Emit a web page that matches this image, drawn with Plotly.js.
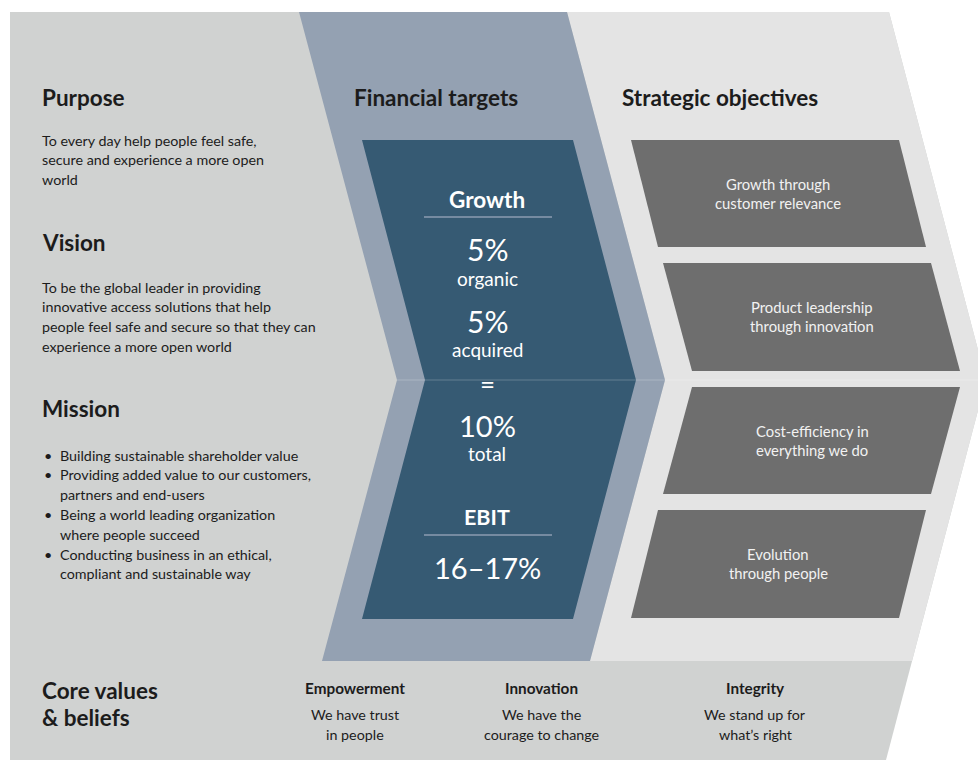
<!DOCTYPE html>
<html>
<head>
<meta charset="utf-8">
<script src="https://cdn.plot.ly/plotly-3.0.1.min.js"></script>
<style>html,body{margin:0;padding:0;background:#fff;}#chart{width:978px;height:760px;}</style>
</head>
<body>
<div id="chart"></div>
<script>
// ---------- content ----------
const sectionTitles = ["Purpose", "Vision", "Mission", "Financial targets", "Strategic objectives"];
const purposeLines = ["To every day help people feel safe,", "secure and experience a more open", "world"];
const visionLines = ["To be the global leader in providing", "innovative access solutions that help", "people feel safe and secure so that they can", "experience a more open world"];
const missionItems = [
  ["Building sustainable shareholder value"],
  ["Providing added value to our customers,", "partners and end-users"],
  ["Being a world leading organization", "where people succeed"],
  ["Conducting business in an ethical,", "compliant and sustainable way"]
];
const growthHeading = "Growth";
const growthValues = ["5%", "5%"];
const growthLabels = ["organic", "acquired"];
const growthEquals = "=";
const growthTotal = "10%";
const growthTotalLabel = "total";
const ebitHeading = "EBIT";
const ebitValue = "16–17%";
const objectives = [
  ["Growth through", "customer relevance"],
  ["Product leadership", "through innovation"],
  ["Cost-efficiency in", "everything we do"],
  ["Evolution", "through people"]
];
const coreTitle = ["Core values", "& beliefs"];
const coreValues = ["Empowerment", "Innovation", "Integrity"];
const coreDescriptions = [["We have trust", "in people"], ["We have the", "courage to change"], ["We stand up for", "what’s right"]];

// ---------- styling ----------
const FONT = "Lato, 'Open Sans', sans-serif";
const DARK = "#1c1c1c";
const C_LEFT = "#d0d2d1", C_RIGHT = "#e4e4e4", C_BAND = "#94a1b2", C_BOX = "#365a73", C_OBJ = "#6e6e6e";

function poly(pts) { return "M " + pts.map(p => p[0] + "," + p[1]).join(" L ") + " Z"; }
const shapes = [];
function addPoly(pts, color) {
  shapes.push({type: "path", xref: "x", yref: "y", path: poly(pts), fillcolor: color, line: {width: 0}, layer: "below"});
}
// panels
addPoly([[10,12],[889,12],[986,380],[886,760],[10,760]], C_LEFT);
addPoly([[567,12],[889,12],[986,380],[912,661],[590,661],[665,380]], C_RIGHT);
addPoly([[299,12],[567,12],[665,380],[590,661],[322,661],[397,380]], C_BAND);
addPoly([[362,140],[573,140],[636,380],[573,619],[362,619],[425,380]], C_BOX);
shapes.push({type: "line", xref: "x", yref: "y", x0: 397, x1: 986, y0: 380, y1: 380, line: {color: "rgba(255,255,255,0.22)", width: 1}, layer: "below"});
// objective boxes
const objGeom = [
  {y0: 140, y1: 247, tl: 631, bl: 658},
  {y0: 263, y1: 371, tl: 663, bl: 692},
  {y0: 387, y1: 494, tl: 692, bl: 663},
  {y0: 510, y1: 618, tl: 658, bl: 631}
];
const OBJ_W = 268;
objGeom.forEach(g => addPoly([[g.tl, g.y0], [g.tl + OBJ_W, g.y0], [g.bl + OBJ_W, g.y1], [g.bl, g.y1]], C_OBJ));
// heading rules
[217, 535].forEach(y => shapes.push({type: "line", xref: "x", yref: "y", x0: 424, x1: 552, y0: y, y1: y, line: {color: "#8d9db0", width: 1.5}, layer: "below"}));

// ---------- text ----------
const ann = [];
function txt(x, y, text, size, opts) {
  opts = opts || {};
  ann.push({
    xref: "x", yref: "y", x: x, y: y, text: opts.bold ? "<b>" + text + "</b>" : text,
    showarrow: false, xanchor: opts.anchor || "left", yanchor: "middle",
    font: {family: FONT, size: size, color: opts.color || DARK}
  });
}
const TITLE = 22.5, BODY = 14.3, LH = 19.8, LX = 40;
txt(LX, 97, sectionTitles[0], TITLE, {bold: true});
txt(436, 97, sectionTitles[3], TITLE, {bold: true, anchor: "center"});
txt(620, 97, sectionTitles[4], TITLE, {bold: true});
purposeLines.forEach((l, i) => txt(LX, 140 + i * LH, l, BODY));
txt(LX, 242, sectionTitles[1], TITLE, {bold: true});
visionLines.forEach((l, i) => txt(LX, 287 + i * LH, l, BODY));
txt(LX, 408, sectionTitles[2], TITLE, {bold: true});
let row = 0;
missionItems.forEach(item => {
  item.forEach((l, j) => {
    const y = 455 + row * LH;
    if (j === 0) txt(42, y, "•", BODY);
    txt(58, y, l, BODY);
    row++;
  });
});
// financial targets
const CX = 487, W = "#ffffff";
txt(CX, 199, growthHeading, 22.5, {bold: true, anchor: "center", color: W});
txt(CX, 249, growthValues[0], 30, {anchor: "center", color: W});
txt(CX, 278, growthLabels[0], 19, {anchor: "center", color: W});
txt(CX, 321, growthValues[1], 30, {anchor: "center", color: W});
txt(CX, 349, growthLabels[1], 19, {anchor: "center", color: W});
txt(CX, 384, growthEquals, 26, {anchor: "center", color: W});
txt(CX, 425, growthTotal, 29, {anchor: "center", color: W});
txt(CX, 453, growthTotalLabel, 19, {anchor: "center", color: W});
txt(CX, 517, ebitHeading, 21.5, {bold: true, anchor: "center", color: W});
txt(CX, 567, ebitValue, 29, {anchor: "center", color: W});
// objectives
const objCenters = [[778, 184], [812, 307], [812, 431], [778, 554]];
objectives.forEach((lines, i) => lines.forEach((l, j) =>
  txt(objCenters[i][0], objCenters[i][1] + j * 19, l, 14.8, {anchor: "center", color: "#f2f2f2"})));
// core values
coreTitle.forEach((l, i) => txt(LX, 690 + i * 27, l, TITLE, {bold: true}));
const coreX = [355, 541, 755];
coreValues.forEach((v, i) => {
  txt(coreX[i], 688, v, 15.3, {bold: true, anchor: "center"});
  coreDescriptions[i].forEach((l, j) => txt(coreX[i], 714 + j * 20, l, 14.3, {anchor: "center"}));
});

const layout = {
  width: 978, height: 760,
  margin: {l: 0, r: 0, t: 0, b: 0},
  paper_bgcolor: "#ffffff", plot_bgcolor: "#ffffff",
  showlegend: false,
  xaxis: {range: [0, 978], visible: false, fixedrange: true},
  yaxis: {range: [760, 0], visible: false, fixedrange: true},
  shapes: shapes,
  annotations: ann
};
Plotly.newPlot("chart", [{x: [], y: [], type: "scatter", mode: "markers", hoverinfo: "skip"}], layout, {staticPlot: true, displayModeBar: false});
</script>
</body>
</html>
